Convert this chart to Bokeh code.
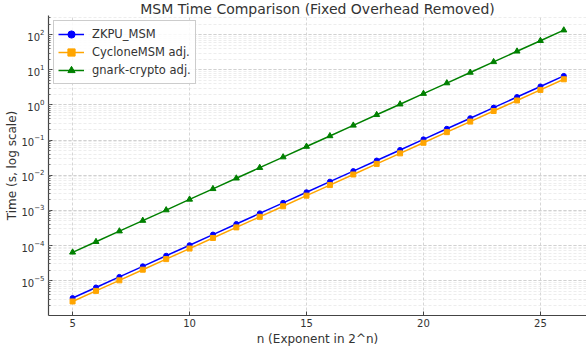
from bokeh.plotting import figure
from bokeh.models import FixedTicker, Range1d, Title, Legend
from bokeh.embed import file_html
from bokeh.resources import INLINE

n = [5, 6, 7, 8, 9, 10, 11, 12, 13, 14, 15, 16, 17, 18, 19, 20, 21, 22, 23, 24, 25, 26]
zkpu = [3.2e-6, 6.4e-6, 1.28e-5, 2.56e-5, 5.12e-5, 1.02e-4, 2.05e-4, 4.10e-4, 8.19e-4, 1.64e-3,
        3.28e-3, 6.55e-3, 1.31e-2, 2.62e-2, 5.24e-2, 0.105, 0.210, 0.419, 0.839, 1.68, 3.36, 6.71]
cyclone = [2.56e-6, 5.12e-6, 1.02e-5, 2.05e-5, 4.10e-5, 8.19e-5, 1.64e-4, 3.28e-4, 6.55e-4, 1.31e-3,
           2.62e-3, 5.24e-3, 1.05e-2, 2.10e-2, 4.19e-2, 8.39e-2, 0.168, 0.336, 0.671, 1.34, 2.68, 5.37]
gnark = [6.4e-5, 1.28e-4, 2.56e-4, 5.12e-4, 1.02e-3, 2.05e-3, 4.10e-3, 8.19e-3, 1.64e-2, 3.28e-2,
         6.55e-2, 0.131, 0.262, 0.524, 1.05, 2.10, 4.19, 8.39, 16.8, 33.6, 67.1, 134.0]
x_ticks = [5, 10, 15, 20, 25]
x_label = "n (Exponent in 2^n)"
y_label = "Time (s, log scale)"
title = "MSM Time Comparison (Fixed Overhead Removed)"

FONT = "DejaVu Sans"
TXT = "#333333"

p = figure(width=586, height=348, y_axis_type="log", output_backend="svg", toolbar_location=None,
           x_range=Range1d(3.97, 26.97), y_range=Range1d(1.02e-6, 10 ** 2.545),
           min_border_left=48, min_border_right=0, min_border_top=0, min_border_bottom=32)
p.title = Title(text=title, align="center",
                text_font=FONT, text_font_size="14px", text_font_style="normal",
                text_color=TXT, standoff=-3, offset=0)
p.outline_line_color = None

series = [("ZKPU_MSM", zkpu, "#0000ff", "circle", 5),
          ("CycloneMSM adj.", cyclone, "#ffa500", "square", 5),
          ("gnark-crypto adj.", gnark, "#008000", "triangle", 6)]
items = []
for label, ys, col, mk, sz in series:
    r1 = p.line(n, ys, line_color=col, line_width=1.5)
    r2 = p.scatter(n, ys, marker=mk, size=sz, fill_color=col, line_color=col)
    items.append((label, [r1, r2]))

legend = Legend(items=items, location="top_left", label_text_font=FONT, label_text_font_size="11.5px",
                label_text_color=TXT, border_line_color="#cccccc", border_line_alpha=1.0,
                background_fill_alpha=0.85, spacing=0, padding=4, margin=5,
                label_height=18, glyph_height=18, glyph_width=26, label_standoff=8)
p.add_layout(legend)

p.xaxis.ticker = FixedTicker(ticks=x_ticks)
p.xaxis.axis_label = x_label
p.yaxis.axis_label = y_label
for ax in (p.xaxis, p.yaxis):
    ax.axis_label_text_font = FONT
    ax.axis_label_text_font_size = "12px"
    ax.axis_label_text_font_style = "normal"
    ax.axis_label_text_color = TXT
    ax.major_label_text_font = FONT
    ax.major_label_text_font_size = "10px"
    ax.major_label_text_color = TXT
    ax.axis_line_color = "#444444"
    ax.axis_line_width = 1.2
    ax.major_tick_in = 4
    ax.major_tick_out = 0
    ax.minor_tick_in = 2
    ax.minor_tick_out = 0
    ax.major_tick_line_color = "#444444"
    ax.minor_tick_line_color = "#666666"
p.xaxis.minor_tick_in = 0
p.xaxis.major_label_standoff = 3
p.xaxis.axis_label_standoff = 2
p.yaxis.major_label_standoff = 4
p.yaxis.axis_label_standoff = -1

p.xgrid.grid_line_color = "#cccccc"
p.xgrid.grid_line_dash = "3 2"
p.xgrid.grid_line_width = 0.8
p.ygrid.grid_line_color = "#cccccc"
p.ygrid.grid_line_dash = "3 2"
p.ygrid.grid_line_width = 0.8
p.ygrid.minor_grid_line_color = "#e0e0e0"
p.ygrid.minor_grid_line_dash = "3 2"
p.ygrid.minor_grid_line_width = 0.6

open("out.html", "w").write(file_html(p, INLINE))
